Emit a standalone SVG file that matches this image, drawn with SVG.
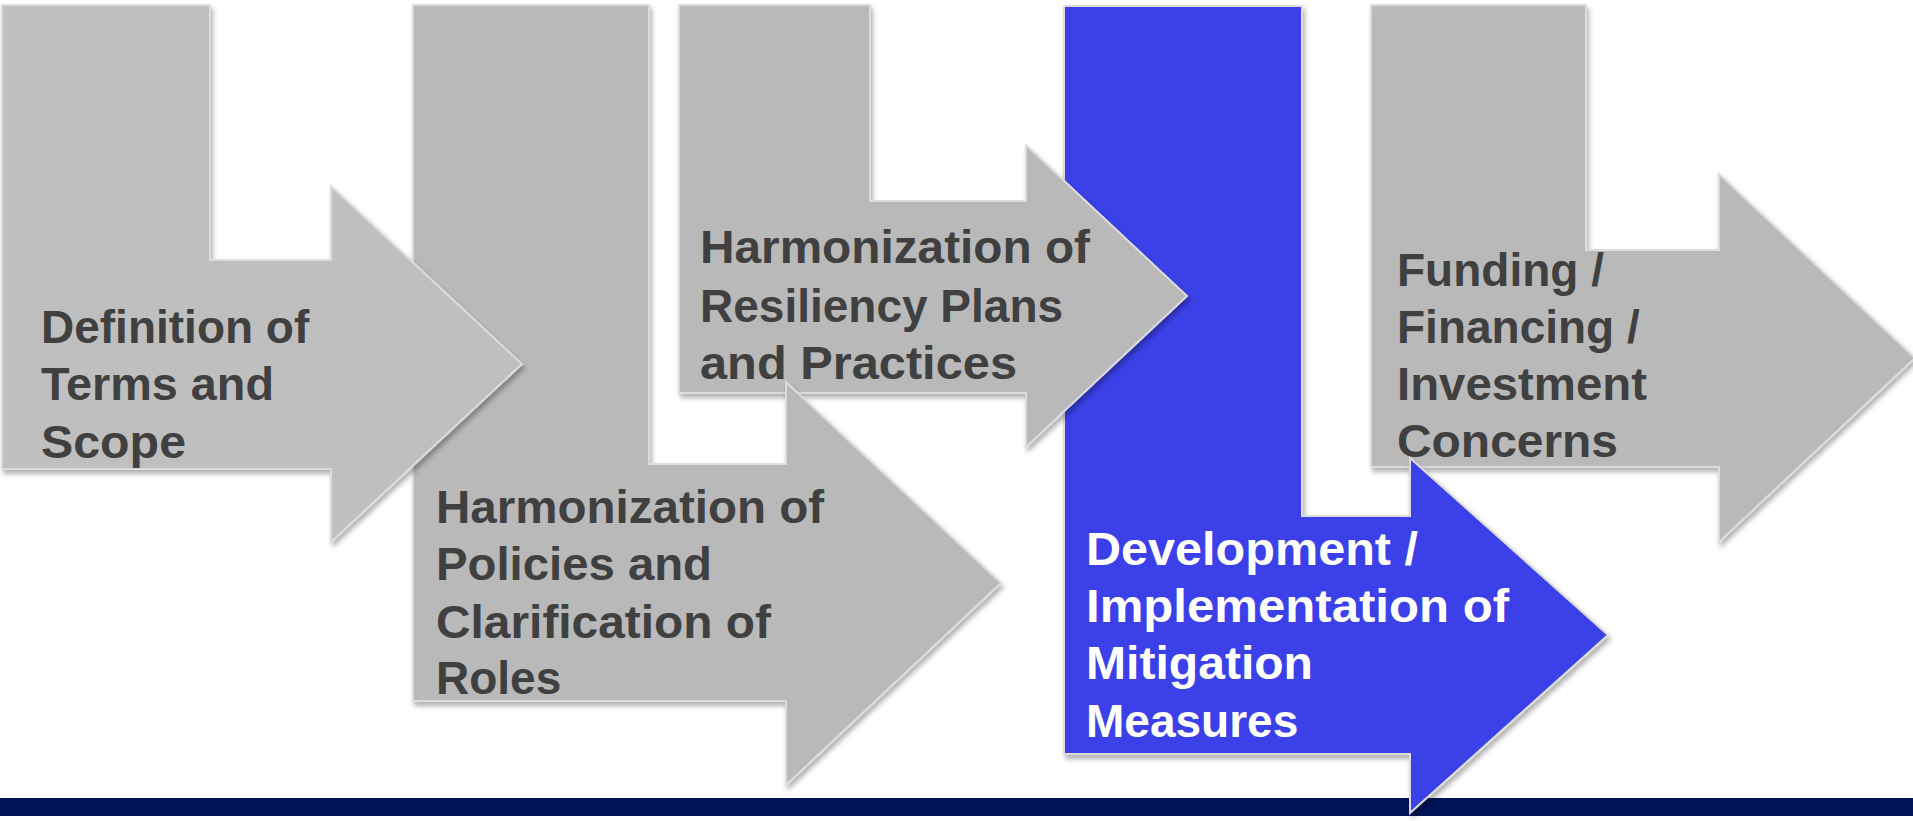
<svg xmlns="http://www.w3.org/2000/svg" width="1913" height="821" viewBox="0 0 1913 821">
<defs>
<filter id="sh" x="-10%" y="-10%" width="130%" height="130%">
<feDropShadow dx="2" dy="4" stdDeviation="2.5" flood-color="#000" flood-opacity="0.3"/>
</filter>
</defs>
<style>
.shape{stroke:#DCDCDC;stroke-width:2;stroke-linejoin:miter;filter:url(#sh)}
.g1{fill:#BFBFBF}
.g{fill:#B9B9B9}
.b{fill:#3A41E8}
text{font-family:"Liberation Sans",Arial,sans-serif;font-weight:bold;font-size:46px}
.dk{fill:#404040}
.wt{fill:#FFFFFF}
</style>
<rect x="0" y="0" width="1913" height="821" fill="#FFFFFF"/>
<rect id="band" x="0" y="798" width="1913" height="18" fill="#001359"/>
<g id="connectors"/>
<g id="node5">
<polygon class="shape g" points="1371,5 1586,5 1586,250 1719,250 1719,174 1915,358 1719,542 1719,467 1371,467"/>
<text class="dk" x="1397" y="286">Funding /</text>
<text class="dk" x="1397" y="343">Financing /</text>
<text class="dk" x="1397" y="400" textLength="250" lengthAdjust="spacingAndGlyphs">Investment</text>
<text class="dk" x="1397" y="457" textLength="221" lengthAdjust="spacingAndGlyphs">Concerns</text>
</g>
<g id="node4">
<polygon class="shape b" points="1064,6 1302,6 1302,516 1410,516 1410,458 1608,635 1410,813 1410,754 1064,754"/>
<text class="wt" x="1086" y="565" textLength="332" lengthAdjust="spacingAndGlyphs">Development /</text>
<text class="wt" x="1086" y="622" textLength="423" lengthAdjust="spacingAndGlyphs">Implementation of</text>
<text class="wt" x="1086" y="679" textLength="227" lengthAdjust="spacingAndGlyphs">Mitigation</text>
<text class="wt" x="1086" y="737">Measures</text>
</g>
<g id="node3">
<polygon class="shape g" points="679,5 870,5 870,201 1026,201 1026,145 1187,296 1026,447 1026,393 679,393"/>
<text class="dk" x="700" y="263" textLength="390" lengthAdjust="spacingAndGlyphs">Harmonization of</text>
<text class="dk" x="700" y="322">Resiliency Plans</text>
<text class="dk" x="700" y="379" textLength="317" lengthAdjust="spacingAndGlyphs">and Practices</text>
</g>
<g id="node2">
<polygon class="shape g" points="413,5 649,5 649,464 786,464 786,382 1001,583 786,785 786,701 413,701"/>
<text class="dk" x="436" y="523" textLength="388" lengthAdjust="spacingAndGlyphs">Harmonization of</text>
<text class="dk" x="436" y="580" textLength="276" lengthAdjust="spacingAndGlyphs">Policies and</text>
<text class="dk" x="436" y="638" textLength="335" lengthAdjust="spacingAndGlyphs">Clarification of</text>
<text class="dk" x="436" y="694">Roles</text>
</g>
<g id="node1">
<polygon class="shape g1" points="2,5 210,5 210,260 331,260 331,186 522,364 331,542 331,469 2,469"/>
<text class="dk" x="41" y="343">Definition of</text>
<text class="dk" x="41" y="400" textLength="233" lengthAdjust="spacingAndGlyphs">Terms and</text>
<text class="dk" x="41" y="458" textLength="145" lengthAdjust="spacingAndGlyphs">Scope</text>
</g>
</svg>
